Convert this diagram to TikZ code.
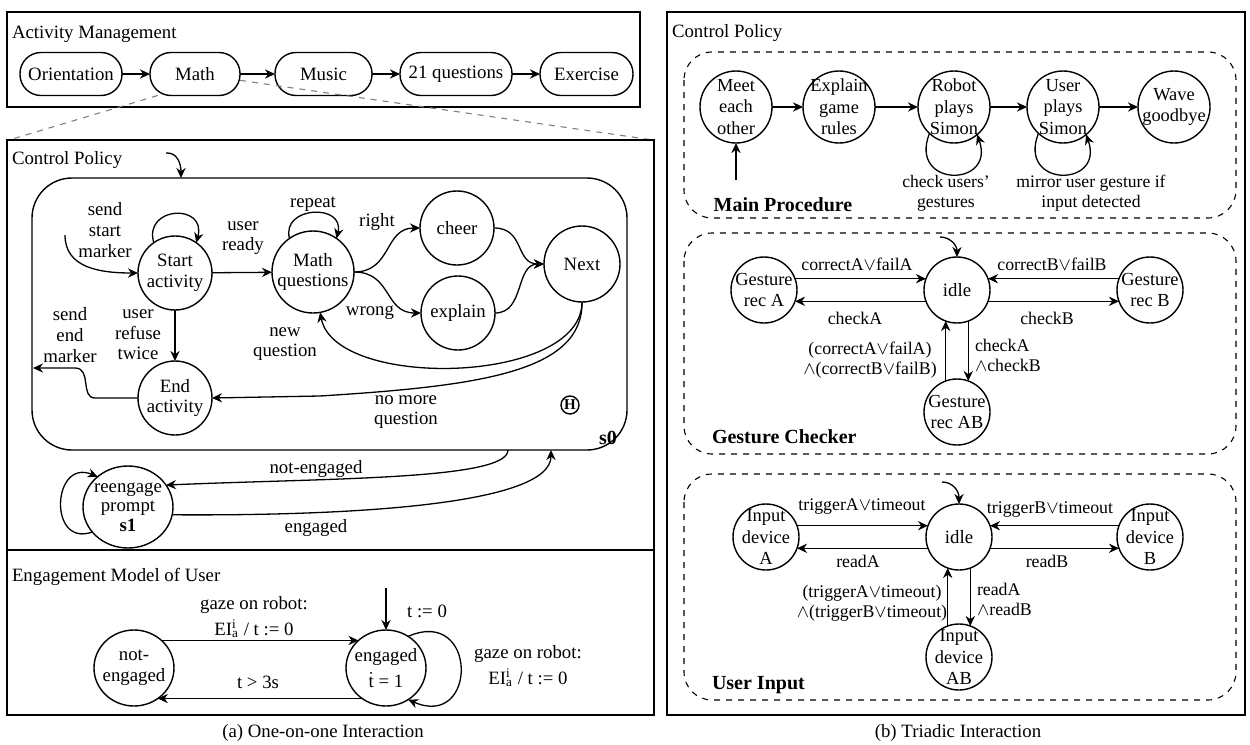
\documentclass[tikz,border=0pt]{standalone}
\usepackage{amsmath}
\usepackage{fontspec}
\setmainfont{Liberation Serif}
\usetikzlibrary{arrows.meta,shapes.geometric}
\newcommand{\eia}{EI\rlap{\textsuperscript{i}}\textsubscript{a}}
\begin{document}
\begin{tikzpicture}[x=0.5pt,y=-0.5pt,
  font=\fontsize{9.4}{10.3}\selectfont,
  every node/.style={inner sep=0pt, outer sep=0pt},
  arr/.style={-{Stealth[length=5pt,width=4.6pt]}, line width=0.65pt},
  frame/.style={line width=0.75pt},
  pill/.style={draw, line width=0.7pt, rounded corners=10.5pt, minimum height=21.5pt},
  lst/.style={circle, draw, line width=0.7pt},
  lab/.style={align=center},
  rlab/.style={align=center, font=\fontsize{8.9}{10}\selectfont},
  tlab/.style={align=center, font=\fontsize{9.2}{10.8}\selectfont},
  mlab/.style={align=center, font=\fontsize{8.8}{10}\selectfont},
  dbox/.style={dashed, line width=0.55pt, rounded corners=14pt},
  zoomline/.style={dashed, gray, line width=0.55pt},
]
\useasboundingbox (0,0) rectangle (1250,745);

% ---------------- Activity management ----------------
\draw[frame] (7,12) rectangle (640,107);
\node[anchor=west] (amTitle) at (12,34) {Activity Management};
\node[pill, minimum width=51pt] (or) at (71,74) {Orientation};
\node[pill, minimum width=45pt] (ma) at (195,74) {Math};
\node[pill, minimum width=48.5pt] (mu) at (323.5,74) {Music};
\node[pill, minimum width=56pt] (tq) at (456,74) {21 questions};
\node[pill, minimum width=46.5pt] (exr) at (586.5,74) {Exercise};
\draw[arr] (or) -- (ma);
\draw[arr] (ma) -- (mu);
\draw[arr] (mu) -- (tq);
\draw[arr] (tq) -- (exr);
\coordinate (cpTL) at (9,140);
\coordinate (cpTR) at (653,140);
\draw[zoomline] (ma.-150) -- (cpTL);
\draw[zoomline] (ma.-8) -- (cpTR);

% ---------------- Control policy (left) ----------------
\draw[frame] (7,140) rectangle (654,715);
\draw[frame] (7,550) -- (654,550);
\node[anchor=west] (cpTitle) at (12,160) {Control Policy};
\node[draw, line width=0.7pt, rounded corners=20pt, minimum width=297.5pt, minimum height=136pt] (s0) at (329.5,314) {};
\node[font=\bfseries] (s0lab) at (608,438) {s0};
\node[circle, draw, line width=0.7pt, minimum size=9pt, font=\bfseries\fontsize{7.5}{8}\selectfont] (hist) at (570,405) {H};

\coordinate (i0) at (166,153);
\coordinate (s0t) at (181,178);
\draw[arr] (i0) .. controls (178,152) and (181,165) .. (s0t);

\node[lst, minimum size=37pt, label={[lab]center:Start\\activity}] (sa) at (175,273) {};
\node[lst, minimum size=41pt, label={[lab]center:Math\\questions}] (mq) at (313,272) {};
\node[lst, minimum size=37pt, label={[lab]center:cheer}] (ch) at (457,228) {};
\node[lst, minimum size=37pt, label={[lab]center:explain}] (ex) at (458,313) {};
\node[lst, minimum size=38pt, label={[lab]center:Next}] (nx) at (582,264) {};
\node[lst, minimum size=37pt, label={[lab]center:End\\activity}] (ea) at (175,398) {};

\coordinate (ssm) at (65,235);
\draw[arr] (ssm) .. controls (65,268) and (100,273) .. (sa.west);
\node[lab] (lssm) at (105,230) {send\\start\\marker};

\draw[arr] (sa.125) .. controls (143,206) and (207,203) .. (sa.55);
\draw[arr] (sa) -- (mq);
\node[lab] (lur) at (243,238) {user\\ready};
\draw[arr] (sa) -- (ea);
\node[lab] (lurt) at (138,335) {user\\refuse\\twice};

\coordinate (s0l) at (33,368);
\draw[arr] (ea.west) -- (95,398) .. controls (80,398) and (92,368) .. (75,368) -- (s0l);
\node[lab] (lsem) at (70,335) {send\\end\\marker};

\draw[arr] (mq.125) .. controls (281,206) and (345,203) .. (mq.55);
\node[lab] (lrep) at (313,204) {repeat};

\draw[arr] (mq.east) .. controls (392,272) and (384,228) .. (ch.west);
\node[lab] (lright) at (377,222) {right};
\draw[arr] (mq.east) .. controls (392,272) and (384,313) .. (ex.west);
\node[lab] (lwrong) at (370,313) {wrong};

\draw[arr] (ch.east) .. controls (525,228) and (515,264) .. (nx.west);
\draw[arr] (ex.east) .. controls (525,313) and (515,264) .. (nx.west);

\draw[arr] (nx.south) .. controls (582,385) and (335,390) .. (mq.-80);
\node[lab] (lnq) at (285,344) {new\\question};
\draw[arr] (nx.south) .. controls (583,372) and (480,386) .. (320,396) -- (ea.east);
\node[lab] (lnmq) at (406,412) {no more\\question};

% reengage
\node[ellipse, draw, line width=0.7pt, minimum width=45pt, minimum height=41pt,
      label={[align=center,font=\fontsize{9.4}{9.8}\selectfont]center:reengage\\prompt\\\textbf{s1}}] (rp) at (128,507) {};
\draw[arr] (rp.215) .. controls (48,548) and (52,458) .. (rp.135);
\coordinate (s0b1) at (508,450);
\coordinate (s0b2) at (551,450);
\draw[arr] (s0b1) .. controls (508,480) and (330,478) .. (rp.30);
\node[lab] (lne) at (316,469) {not-engaged};
\draw[arr] (rp.-10) .. controls (350,516) and (551,505) .. (s0b2);
\node[lab] (leng) at (316,528) {engaged};

% ---------------- Engagement model ----------------
\node[anchor=west] (emTitle) at (12,577) {Engagement Model of User};
\node[ellipse, draw, line width=0.7pt, minimum width=40pt, minimum height=38pt,
      label={[lab]center:not-\\engaged}] (ne) at (134,668) {};
\node[ellipse, draw, line width=0.7pt, minimum width=40pt, minimum height=38pt,
      label={[lab]center:engaged\\[3pt]\smash{$\dot{\text{t}}$} = 1}] (en) at (386,668) {};
\coordinate (ei) at (386,588);
\draw[arr] (ei) -- (en.north);
\node[lab] (lt0) at (427,611) {t := 0};
\draw[arr] (ne.45) -- (en.135);
\node[lab] (lgz1) at (254,617) {gaze on robot:\\[3pt]\eia{} / t := 0};
\draw[arr] (en.-128) -- (ne.-52);
\node[lab] (lt3) at (258,682) {t > 3s};
\draw[arr] (en.55) .. controls (478,606) and (478,730) .. (en.-55);
\node[lab] (lgz2) at (528,666) {gaze on robot:\\[3pt]\eia{} / t := 0};

\node (capA) at (323,733) {(a) One-on-one Interaction};

% ---------------- Right panel ----------------
\draw[frame] (667,12) rectangle (1245,715);
\node[anchor=west] (cpTitleB) at (672,33) {Control Policy};

% Main procedure
\draw[dbox] (684,52) rectangle (1236,218);
\node[lst, minimum size=36pt, label={[tlab]center:Meet\\each\\other}] (mt) at (736,107) {};
\node[lst, minimum size=36pt, label={[tlab]center:Explain\\game\\rules}] (eg) at (839,107) {};
\node[lst, minimum size=36pt, label={[tlab]center:Robot\\plays\\Simon}] (rs) at (954,107) {};
\node[lst, minimum size=36pt, label={[tlab]center:User\\plays\\Simon}] (us) at (1063,107) {};
\node[lst, minimum size=36pt, label={[tlab]center:Wave\\goodbye}] (wg) at (1174,107) {};
\coordinate (mi) at (736,180);
\draw[arr] (mi) -- (mt.south);
\draw[arr] (mt) -- (eg);
\draw[arr] (eg) -- (rs);
\draw[arr] (rs) -- (us);
\draw[arr] (us) -- (wg);
\draw[arr] (rs.-133) .. controls (908,188) and (996,188) .. (rs.-50);
\draw[arr] (us.-133) .. controls (1017,188) and (1105,188) .. (us.-50);
\node[mlab] (lcu) at (946,193) {check users'\\gestures};
\node[mlab] (lmu) at (1091,193) {mirror user gesture if\\input detected};
\node[font=\bfseries] (mpTitle) at (783,205) {Main Procedure};

% Gesture checker
\draw[dbox] (684,233) rectangle (1236,454);
\node[lst, minimum size=33pt, label={[lab]center:idle}] (gi) at (957,290) {};
\node[lst, minimum size=33pt, label={[tlab]center:Gesture\\rec A}] (ga) at (764,290) {};
\node[lst, minimum size=33pt, label={[tlab]center:Gesture\\rec B}] (gb) at (1150,290) {};
\node[lst, minimum size=33pt, label={[tlab]center:Gesture\\rec AB}] (gab) at (957,412) {};
\coordinate (gci) at (940,237);
\draw[arr] (gci) .. controls (950,237) and (957,245) .. (gi.north);
\draw[arr] (ga.20) -- (gi.160);
\draw[arr] (gi.200) -- (ga.-20);
\draw[arr] (gb.160) -- (gi.20);
\draw[arr] (gi.-20) -- (gb.200);
\draw[arr] (gab.110) -- (gi.250);
\draw[arr] (gi.-70) -- (gab.70);
\node[rlab] (lcfa) at (857,264) {correctA$\vee$failA};
\node[rlab] (lca) at (855,318) {checkA};
\node[rlab] (lcfb) at (1052,264) {correctB$\vee$failB};
\node[rlab] (lcb) at (1047,318) {checkB};
\node[rlab] (lcab) at (870,360) {(correctA$\vee$failA)\\$\wedge$(correctB$\vee$failB)};
\node[rlab, align=left, anchor=west] (lcab2) at (975,355) {checkA\\$\wedge$checkB};
\node[font=\bfseries, anchor=west] (gcTitle) at (712,437) {Gesture Checker};

% User input
\draw[dbox] (684,474) rectangle (1236,700);
\node[lst, minimum size=33pt, label={[lab]center:idle}] (ui) at (959,537) {};
\node[lst, minimum size=33pt, label={[tlab]center:Input\\device\\A}] (ia) at (766,537) {};
\node[lst, minimum size=33pt, label={[tlab]center:Input\\device\\B}] (ib) at (1150,537) {};
\node[lst, minimum size=33pt, label={[tlab]center:Input\\device\\AB}] (iab) at (959,657) {};
\coordinate (uii) at (942,482);
\draw[arr] (uii) .. controls (952,482) and (959,490) .. (ui.north);
\draw[arr] (ia.20) -- (ui.160);
\draw[arr] (ui.200) -- (ia.-20);
\draw[arr] (ib.160) -- (ui.20);
\draw[arr] (ui.-20) -- (ib.200);
\draw[arr] (iab.110) -- (ui.250);
\draw[arr] (ui.-70) -- (iab.70);
\node[rlab] (ltA) at (862,507) {triggerA$\vee$timeout};
\node[rlab] (lrA) at (858,561) {readA};
\node[rlab] (ltB) at (1050,510) {triggerB$\vee$timeout};
\node[rlab] (lrB) at (1047,561) {readB};
\node[rlab] (ltAB) at (872,603) {(triggerA$\vee$timeout)\\$\wedge$(triggerB$\vee$timeout)};
\node[rlab, align=left, anchor=west] (lrAB) at (977,599) {readA\\$\wedge$readB};
\node[font=\bfseries, anchor=west] (uiTitle) at (712,685) {User Input};

\node (capB) at (958,733) {(b) Triadic Interaction};
\end{tikzpicture}
\end{document}
